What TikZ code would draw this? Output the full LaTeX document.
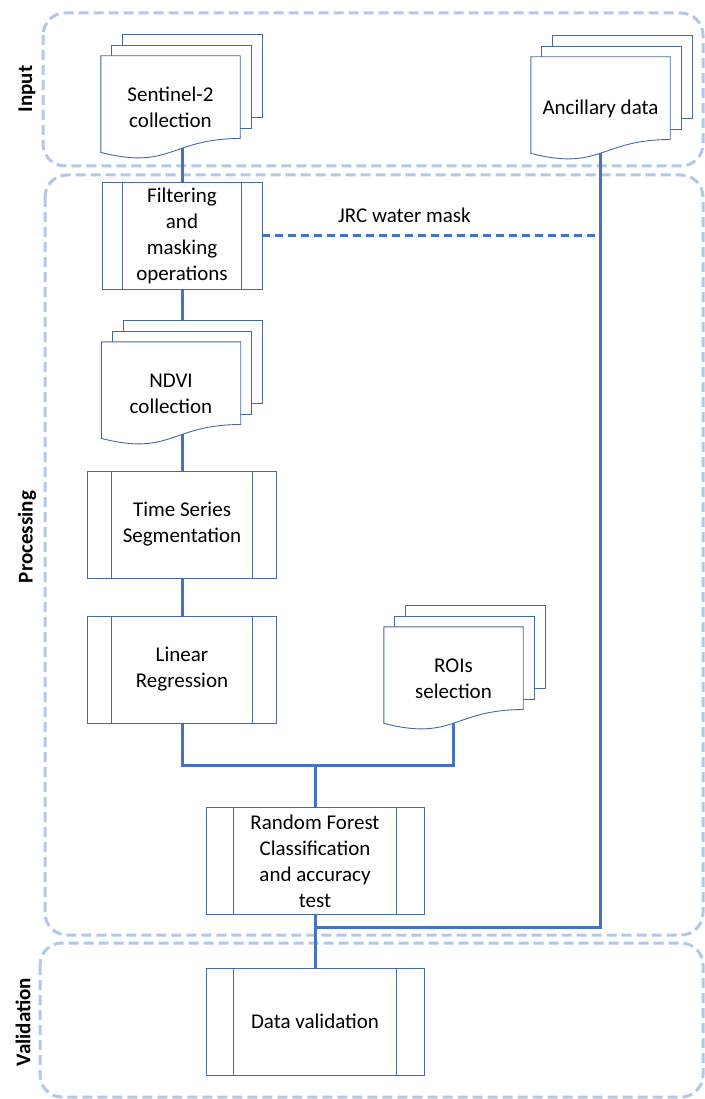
\documentclass[tikz,border=0pt]{standalone}
\usepackage{fontspec}
\setmainfont{Carlito}
\usepackage{tikz}
\usetikzlibrary{calc}
\definecolor{flowblue}{RGB}{68,114,196}
\definecolor{boxline}{RGB}{70,105,160}
\definecolor{groupblue}{RGB}{180,199,231}
\pgfdeclarelayer{groups}
\pgfdeclarelayer{lines}
\pgfdeclarelayer{pages}
\pgfsetlayers{groups,lines,pages,main}
\tikzstyle{process} = [rectangle, minimum height=107pt, text centered, align=center, draw=boxline, line width=0.9pt, fill=white, path picture={
    \draw[boxline, line width=0.9pt] ($(path picture bounding box.north west)!0.127!(path picture bounding box.north east)$) -- ($(path picture bounding box.south west)!0.127!(path picture bounding box.south east)$);
    \draw[boxline, line width=0.9pt] ($(path picture bounding box.north west)!0.873!(path picture bounding box.north east)$) -- ($(path picture bounding box.south west)!0.873!(path picture bounding box.south east)$);}]
\tikzstyle{doc} = [rectangle, minimum width=139pt, minimum height=103pt, inner sep=0pt, text centered, align=center]
\tikzstyle{docline} = [draw=boxline, line width=0.9pt, fill=white]
\tikzstyle{flow} = [draw=flowblue, line width=3pt]
\tikzstyle{maskline} = [draw=flowblue, line width=2.5pt, dash pattern=on 8pt off 5pt]
\tikzstyle{group} = [draw=groupblue, line width=3pt, dash pattern=on 10pt off 5pt, rounded corners=22pt]
\tikzstyle{grouplabel} = [rotate=90, font=\fontsize{21}{26}\selectfont\bfseries]
% stacked pages behind a document node
\newcommand{\docpages}[1]{%
  \begin{pgfonlayer}{pages}
    \foreach \k in {2,1}
      \draw[docline] ($(#1.north west)+(\k*11pt,\k*10.5pt)$) rectangle ($(#1.north east)!0.8!(#1.south east)+(\k*11pt,\k*10.5pt)$);
    \draw[docline] (#1.north west) -- (#1.north east) -- ($(#1.north east)!0.8!(#1.south east)$)
      .. controls ($(#1.north)!0.8!(#1.south)$) and ($(#1.north)!1.108!(#1.south)$) .. ($(#1.north west)!0.934!(#1.south west)$) -- cycle;
  \end{pgfonlayer}}

\begin{document}
\begin{tikzpicture}[x=1pt, y=-1pt, node distance=140pt, font=\fontsize{21}{26}\selectfont]
    \useasboundingbox (0,0) rectangle (704,1099);
    % Nodes
    \node (sentinel) [doc] at (170.5,107.5) {Sentinel-2\\collection};
    \node (ancillary) [doc, right of=sentinel, xshift=290pt, yshift=-1pt] {Ancillary data};
    \node (filtering) [process, minimum width=160pt, below of=sentinel, xshift=11.5pt, yshift=12pt] {Filtering\\and\\masking\\operations};
    \node (ndvi) [doc, below of=filtering, xshift=-11pt, yshift=-18pt] {NDVI\\collection};
    \node (segmentation) [process, minimum width=189pt, below of=ndvi, xshift=11pt, yshift=9pt] {Time Series\\Segmentation};
    \node (regression) [process, minimum width=189pt, below of=segmentation, yshift=-5pt] {Linear\\Regression};
    \node (rois) [doc, right of=regression, xshift=131.5pt, yshift=-9pt] {ROIs\\selection};
    \node (forest) [process, minimum width=218pt, below of=regression, xshift=133pt, yshift=-51.5pt] {Random Forest\\Classification\\and accuracy\\test};
    \node (validation) [process, minimum width=218pt, below of=forest, yshift=-20.5pt] {Data validation};
    \docpages{sentinel}
    \docpages{ancillary}
    \docpages{ndvi}
    \docpages{rois}

    % Groups
    \begin{pgfonlayer}{groups}
        \draw[group] (43,13) rectangle (703,166);
        \draw[group] (45,175) rectangle (703,935);
        \draw[group] (40,943) rectangle (703,1097);
    \end{pgfonlayer}
    \node (inputlabel) [grouplabel] at (27,89) {Input};
    \node (processinglabel) [grouplabel] at (27,537) {Processing};
    \node (validationlabel) [grouplabel] at (23,1022) {Validation};

    % Connectors
    \coordinate (merge) at ($(forest.north)+(0,-42)$);
    \coordinate (ancjoin) at ($(forest.south)+(0,13)$);
    \begin{pgfonlayer}{lines}
        \draw[flow] (sentinel.center -| filtering.north) -- (filtering.north);
        \draw[flow] (filtering.south) -- (ndvi.center -| filtering.south);
        \draw[flow] (ndvi.center -| segmentation.north) -- (segmentation.north);
        \draw[flow] (segmentation) -- (regression);
        \draw[flow] (regression.south) |- (merge) -| (rois.center);
        \draw[flow] (merge) -- (forest.north);
        \draw[flow] (forest.south) -- (validation.north);
        \draw[flow] (ancillary.center) |- (ancjoin);
        \draw[maskline] (filtering.east) -- (filtering.east -| ancillary.center) node (jrclabel) [pos=0.42, yshift=20pt, text=black] {JRC water mask};
    \end{pgfonlayer}
\end{tikzpicture}
\end{document}
